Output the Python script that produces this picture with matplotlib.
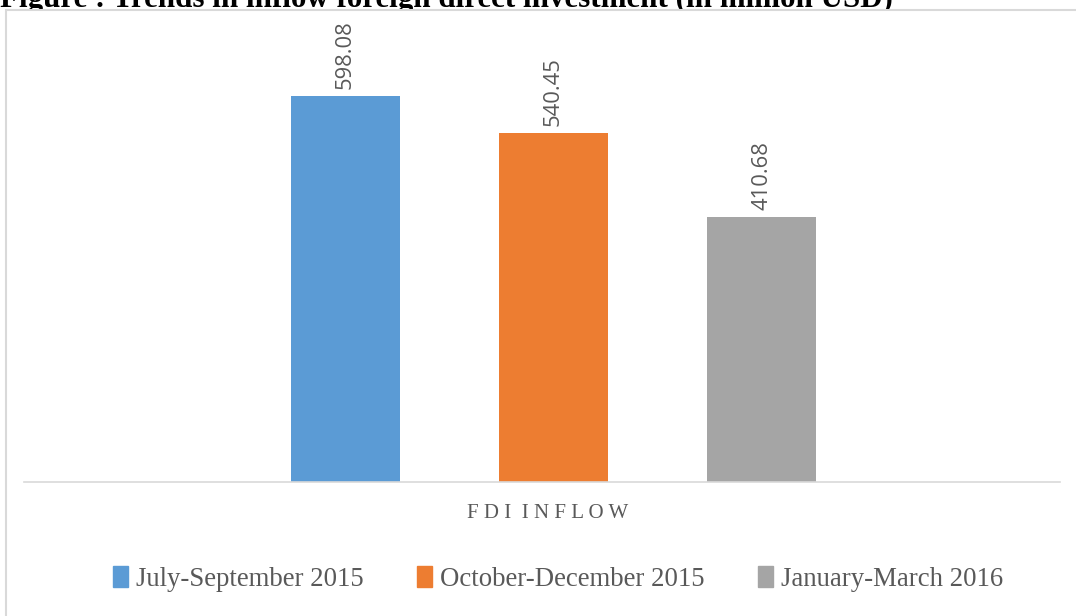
import matplotlib.pyplot as plt
from matplotlib.patches import Rectangle

periods = ["July-September 2015", "October-December 2015", "January-March 2016"]
fdi_inflow = [598.08, 540.45, 410.68]
colors = ["#5b9bd5", "#ed7d31", "#a5a5a5"]


def main():
    fig = plt.figure(figsize=(10.76, 6.16), dpi=100)
    W, H = 1076, 616

    # title, mostly cropped off the top (chart box covers its descenders)
    fig.text(0.0, 1 - 7 / H, "Figure : Trends in inflow foreign direct investment (in million USD)",
             fontsize=22.3, fontweight="bold", family="Liberation Serif",
             ha="left", va="baseline", color="black", zorder=0.5)

    # outer chart frame, cut off at right and bottom like the screenshot
    fig.patches.append(Rectangle((6 / W, -0.1), 1.2, 1 - 10 / H + 0.1,
                                 transform=fig.transFigure, facecolor="white",
                                 edgecolor="#d9d9d9", linewidth=1.5, zorder=1))

    ax = fig.add_axes([24 / W, 1 - 482 / H, 1036 / W, 452 / H])
    ax.set_zorder(2)
    ax.patch.set_alpha(0)
    x = [0, 1, 2]
    bars = ax.bar(x, fdi_inflow, width=0.524, color=colors)
    ax.set_xlim(-1.546, 3.435)
    ax.set_ylim(0, 700)

    for b, v in zip(bars, fdi_inflow):
        ax.annotate(f"{v:.2f}", (b.get_x() + b.get_width() / 2, v),
                    xytext=(0, 5), textcoords="offset points",
                    rotation=90, ha="center", va="bottom",
                    fontsize=15.8, color="#595959", family="Open Sans")

    for s in ["top", "right", "left"]:
        ax.spines[s].set_visible(False)
    ax.spines["bottom"].set_color("#d9d9d9")
    ax.spines["bottom"].set_linewidth(1.2)
    ax.set_xticks([])
    ax.set_yticks([])

    fig.text(548 / W, 1 - 513 / H, "F D I  I N F L O W", ha="center", va="center",
             fontsize=15, color="#595959", family="Liberation Serif", zorder=3)

    handles = [Rectangle((0, 0), 1, 1, color=c) for c in colors]
    leg = fig.legend(handles, periods, loc="center", bbox_to_anchor=(558 / W, 1 - 579 / H),
                     ncol=3, frameon=False, handlelength=0.55, handleheight=0.8,
                     handletextpad=0.3, columnspacing=2.0,
                     prop={"family": "Liberation Serif", "size": 19.3})
    leg.set_zorder(3)
    for t in leg.get_texts():
        t.set_color("#595959")

    fig.savefig("out.png", dpi=100)


if __name__ == "__main__":
    main()
